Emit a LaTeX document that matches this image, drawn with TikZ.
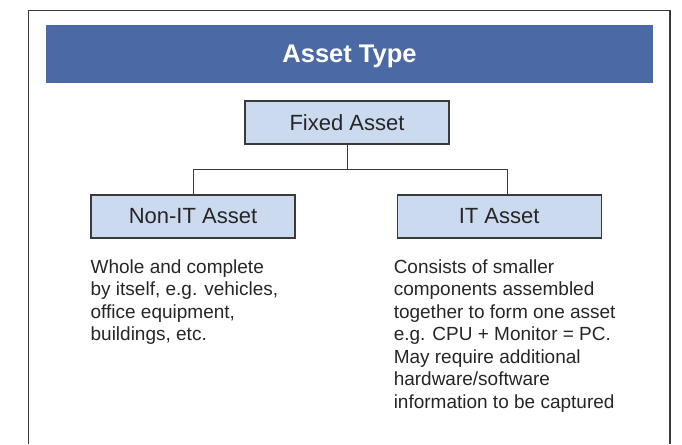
\documentclass[tikz,border=0pt]{standalone}
\usepackage{fontspec}
\setmainfont{Liberation Sans}
\usetikzlibrary{positioning}
\definecolor{headblue}{HTML}{4A69A5}
\definecolor{boxblue}{HTML}{CCDAF0}
\definecolor{linegray}{HTML}{3A3A3A}
\tikzset{
    header/.style={fill=headblue,text=white,minimum width=607pt,minimum height=58pt,inner sep=0pt,text depth=0pt,font=\bfseries\fontsize{25.5}{29}\selectfont},
    asset/.style={draw=linegray,fill=boxblue,line width=1.1pt,minimum width=204pt,minimum height=43pt,inner sep=0pt,text=black!85,font=\fontsize{22}{26}\selectfont},
    desc/.style={anchor=north west,inner sep=0pt,align=left,text=black!85,font=\fontsize{19}{22.45}\selectfont},
}

\begin{document}
\begin{tikzpicture}[x=1pt,y=-1pt,link/.style={draw=linegray,line width=0.9pt}]
        \useasboundingbox (0,0) rectangle (682,444);
        \draw[linegray,line width=1.4pt] (28.5,444) -- (28.5,10.5) -- (670,10.5) -- (670,444);

        \node[header] (title) at (349.5,54) {Asset Type};
        \node[asset] (fixed) at (347,122.5) {Fixed Asset};
        \node[asset] (nonit) at (193,216.5) {Non-IT Asset};
        \node[asset] (it) [right=101pt of nonit] {IT Asset};

        \node[desc] (nonitdesc) at ([yshift=-21pt]nonit.south west) {Whole and complete\\by itself, e.g. vehicles,\\office equipment,\\buildings, etc.};
        \node[desc] (itdesc) at ([xshift=-3pt,yshift=-21pt]it.south west) {Consists of smaller\\components assembled\\together to form one asset\\e.g. CPU + Monitor = PC.\\May require additional\\hardware/software\\information to be captured};

        \coordinate (split) at ([yshift=-25pt]fixed.south);
        \path[link] (fixed.south) -- (split);
        \path[link] (nonit.north) |- (split) -| ([xshift=8pt]it.north);
\end{tikzpicture}
\end{document}
